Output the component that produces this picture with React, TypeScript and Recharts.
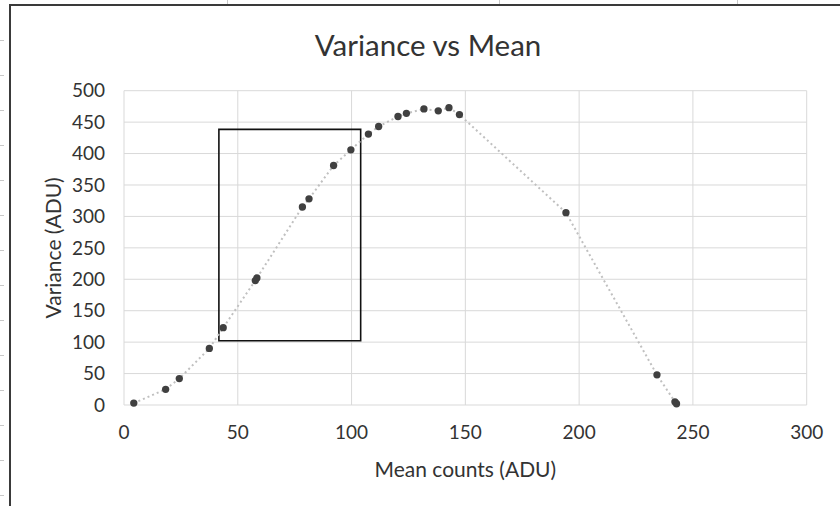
import React from "react";
import {
    ComposedChart,
    Line,
    Scatter,
    XAxis,
    YAxis,
    ZAxis,
    CartesianGrid,
    ReferenceArea,
    Label
} from "recharts";

// mean counts (ADU)
const meanCounts = [4.3, 18.3, 24.3, 37.5, 43.6, 57.7, 58.4, 78.4, 81.3, 92.1, 99.7, 107.4, 111.9, 120.4, 124.1, 131.8, 138.1, 142.8, 147.4, 194.2, 234.2, 242.1, 242.8];
// variance (ADU)
const variances = [3, 25, 42, 90, 123, 198, 202, 315, 328, 381, 406, 431, 443, 459, 464, 471, 468, 473, 462, 306, 48, 5, 2];

const xTicks = [0, 50, 100, 150, 200, 250, 300];
const yTicks = [0, 50, 100, 150, 200, 250, 300, 350, 400, 450, 500];

// box drawn over the linear region
const boxX = [41.7, 104];
const boxY = [102.3, 438.5];

// spreadsheet cell lines peeking around the chart frame
const rowLines = [40, 75, 110, 145, 180, 215, 250, 285, 320, 355, 390, 425, 460, 495];
const colLines = [227, 499, 737];

const data = meanCounts.map((x, i) => ({ x, y: variances[i] }));

const FONT = "Lato, 'Open Sans', sans-serif";
const TEXT = "#333333";

export default function App() {
    return (
        <div style={{ position: "absolute", left: 0, top: 0, width: 840, height: 506, background: "#fff", overflow: "hidden", fontFamily: FONT }}>
            {rowLines.map(y => (
                <div key={"r" + y} style={{ position: "absolute", left: 0, top: y, width: 4, height: 1, background: "#c8c8c8" }} />
            ))}
            {colLines.map(x => (
                <div key={"c" + x} style={{ position: "absolute", left: x, top: 0, width: 1, height: 4, background: "#c8c8c8" }} />
            ))}
            <div style={{ position: "absolute", left: 9, top: 4, right: -10, bottom: -10, borderTop: "2px solid #3a3a3a", borderLeft: "2px solid #3a3a3a" }} />
            <div style={{ position: "absolute", left: 0, top: 30, width: 856, textAlign: "center", fontSize: 29.5, lineHeight: "29px", color: TEXT }}>
                Variance vs Mean
            </div>
            <div style={{ position: "absolute", left: 0, top: 0 }}>
                <ComposedChart
                    width={840}
                    height={506}
                    data={data}
                    margin={{ top: 90.7, right: 33.3, left: -17, bottom: 61 }}
                    style={{ fontFamily: FONT }}
                >
                    <CartesianGrid stroke="#d9d9d9" strokeWidth={1} />
                    <XAxis
                        dataKey="x"
                        type="number"
                        domain={[0, 300]}
                        ticks={xTicks}
                        axisLine={false}
                        tickLine={false}
                        tickSize={0}
                        tickMargin={21}
                        height={40}
                        tick={{ fill: TEXT, fontSize: 19, fontFamily: FONT }}
                    >
                        <Label value="Mean counts (ADU)" position="insideTop" offset={57} fill={TEXT} fontSize={21} fontFamily={FONT} />
                    </XAxis>
                    <YAxis
                        type="number"
                        domain={[0, 500]}
                        ticks={yTicks}
                        axisLine={false}
                        tickLine={false}
                        tickSize={0}
                        tickMargin={19}
                        width={141}
                        tick={{ fill: TEXT, fontSize: 19, fontFamily: FONT }}
                    >
                        <Label value="Variance (ADU)" angle={-90} position="center" fill={TEXT} fontSize={21} fontFamily={FONT} />
                    </YAxis>
                    <ZAxis range={[42, 42]} />
                    <Line
                        dataKey="y"
                        type="linear"
                        stroke="#c0c0c0"
                        strokeWidth={2}
                        strokeDasharray="2 3"
                        dot={false}
                        activeDot={false}
                        isAnimationActive={false}
                    />
                    <Scatter dataKey="y" fill="#404040" isAnimationActive={false} />
                    <ReferenceArea
                        x1={boxX[0]}
                        x2={boxX[1]}
                        y1={boxY[0]}
                        y2={boxY[1]}
                        fill="none"
                        fillOpacity={0}
                        stroke="#111111"
                        strokeWidth={1.6}
                    />
                </ComposedChart>
            </div>
        </div>
    );
}
